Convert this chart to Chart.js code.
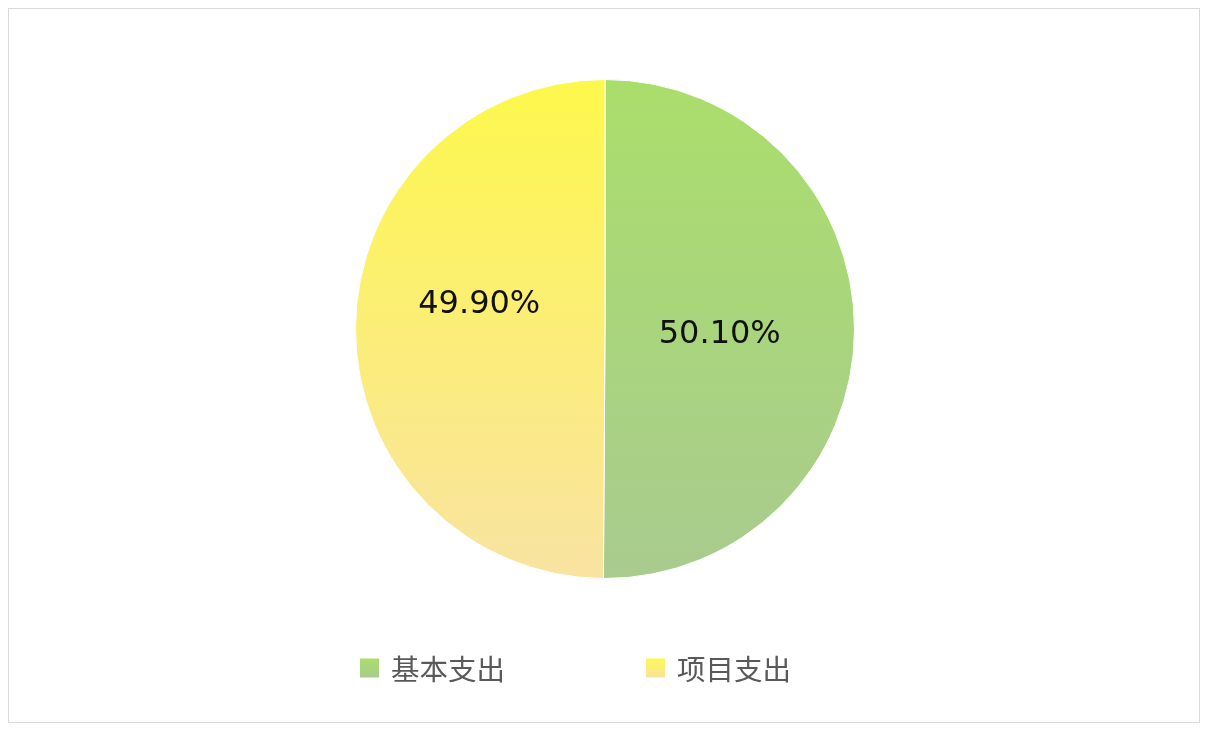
<!DOCTYPE html>
<html>
<head>
<meta charset="utf-8">
<script src="https://cdn.jsdelivr.net/npm/chart.js@4.4.1/dist/chart.umd.min.js"></script>
<style>
  html, body { margin: 0; padding: 0; background: #fff; }
  #box {
    position: absolute; left: 8px; top: 8px;
    width: 1192px; height: 715px;
    border: 1px solid #d9d9d9; box-sizing: border-box;
  }
</style>
</head>
<body>
<div id="box"><canvas id="pieChart"></canvas></div>
<script>
// data
const categories = ["基本支出", "项目支出"];
const shares = [50.10, 49.90];

// slice colours (vertical gradient, top -> bottom)
const topColors = ["#aade6b", "#fdf84c"];
const bottomColors = ["#a9cb8f", "#f9e3a2"];

function sliceFill(ctx) {
  const chart = ctx.chart;
  const area = chart.chartArea;
  const i = ctx.dataIndex;
  if (!area) return topColors[i];
  const g = chart.ctx.createLinearGradient(0, area.top, 0, area.bottom);
  g.addColorStop(0, topColors[i]);
  g.addColorStop(1, bottomColors[i]);
  return g;
}

// percentage text inside each slice
const sliceLabels = {
  id: "sliceLabels",
  afterDatasetsDraw(chart, args, opts) {
    const c = chart.ctx;
    const meta = chart.getDatasetMeta(0);
    c.save();
    c.font = opts.font;
    c.fillStyle = opts.color;
    c.textAlign = "center";
    c.textBaseline = "middle";
    meta.data.forEach((arc, i) => {
      const mid = (arc.startAngle + arc.endAngle) / 2;
      const r = arc.outerRadius * opts.radius;
      const off = opts.offsets[i] || [0, 0];
      const txt = shares[i].toFixed(2) + "%";
      c.fillText(txt, arc.x + Math.cos(mid) * r + off[0], arc.y + Math.sin(mid) * r + off[1]);
    });
    c.restore();
  }
};

// legend row under the pie
const bottomLegend = {
  id: "bottomLegend",
  afterDraw(chart, args, opts) {
    const c = chart.ctx;
    c.save();
    c.font = opts.font;
    c.textAlign = "left";
    c.textBaseline = "middle";
    categories.forEach((name, i) => {
      const x = opts.left + i * opts.step;
      const y = opts.y;
      const g = c.createLinearGradient(0, y - opts.box / 2, 0, y + opts.box / 2);
      g.addColorStop(0, topColors[i]);
      g.addColorStop(1, bottomColors[i]);
      c.fillStyle = g;
      c.fillRect(x, y - opts.box / 2, opts.box, opts.box);
      c.fillStyle = opts.color;
      c.fillText(name, x + opts.box + opts.gap, y + 1);
    });
    c.restore();
  }
};

new Chart(document.getElementById("pieChart"), {
  type: "pie",
  data: {
    labels: categories,
    datasets: [{
      data: shares,
      backgroundColor: sliceFill,
      borderColor: "#ffffff",
      borderWidth: 1
    }]
  },
  options: {
    responsive: true,
    maintainAspectRatio: false,
    animation: false,
    layout: { padding: { top: 70, bottom: 143, left: 2, right: 0 } },
    plugins: {
      legend: { display: false },
      tooltip: { enabled: false },
      sliceLabels: {
        font: '32px "DejaVu Sans"',
        color: "#111111",
        radius: 0.5,
        offsets: [[-10, 5], [-1, -24]]
      },
      bottomLegend: {
        font: '28.5px "Noto Sans CJK SC"',
        color: "#595959",
        left: 351,
        step: 286,
        y: 659,
        box: 19,
        gap: 12
      }
    }
  },
  plugins: [sliceLabels, bottomLegend]
});
</script>
</body>
</html>
